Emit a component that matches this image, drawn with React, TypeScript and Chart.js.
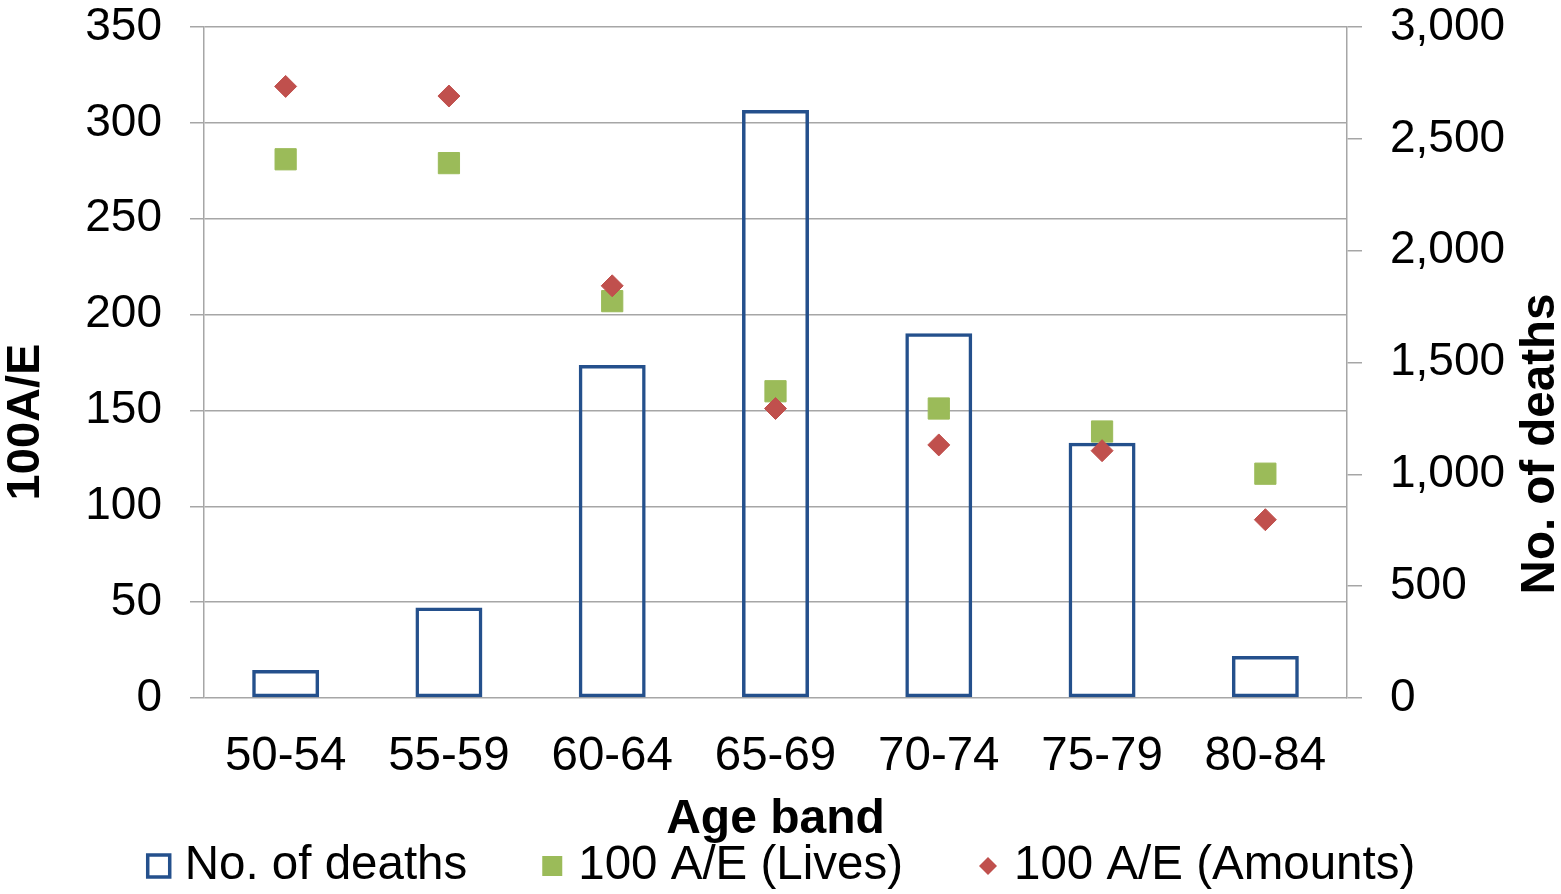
import React, { useEffect, useRef } from 'react';
import { Chart, registerables } from 'chart.js';

Chart.register(...registerables);

const FONT = '"Liberation Sans", Arial, Helvetica, sans-serif';

// ---- data ----
const categories = ['50-54', '55-59', '60-64', '65-69', '70-74', '75-79', '80-84'];
const deaths = [125, 405, 1489, 2629, 1631, 1141, 188];
const livesAE = [281, 279, 207, 160, 151, 139, 117];
const amountsAE = [319, 314, 215, 151, 132, 129, 93];

const leftAxisTitle = '100A/E';
const rightAxisTitle = 'No. of deaths';
const xAxisTitle = 'Age band';
const seriesLabels = ['No. of deaths', '100 A/E (Lives)', '100 A/E (Amounts)'];

const leftMax = 350;
const leftStep = 50;
const rightMax = 3000;
const rightStep = 500;

const BLUE = '#24508c';
const GREEN = '#9bbb59';
const RED = '#c0504d';
const GRID = '#a6a6a6';

const titlesAndLegend = {
  id: 'titlesAndLegend',
  afterDraw(chart: any) {
    const ctx = chart.ctx as CanvasRenderingContext2D;
    ctx.save();
    ctx.fillStyle = '#000';
    ctx.textAlign = 'center';
    ctx.textBaseline = 'middle';

    ctx.save();
    ctx.font = `bold 47px ${FONT}`;
    ctx.translate(26, 422);
    ctx.rotate(-Math.PI / 2);
    ctx.fillText(leftAxisTitle, 0, 0);
    ctx.restore();

    ctx.save();
    ctx.font = `bold 47.5px ${FONT}`;
    ctx.translate(1541, 444);
    ctx.rotate(-Math.PI / 2);
    ctx.fillText(rightAxisTitle, 0, 0);
    ctx.restore();

    // legend
    ctx.font = `47.5px ${FONT}`;
    const ds = chart.data.datasets;
    const widths = ds.map((d: any) => ctx.measureText(d.label).width);
    const slot = 39;
    const gap = 72;
    const total = widths.reduce((a: number, b: number) => a + b, 0) + slot * ds.length + gap * (ds.length - 1);
    let x = (chart.width - total) / 2;
    const y = 866;
    ds.forEach((d: any, i: number) => {
      const cx = x + 13;
      if (i === 0) {
        ctx.strokeStyle = BLUE;
        ctx.lineWidth = 3.5;
        ctx.strokeRect(cx - 11, y - 11, 22, 22);
      } else if (i === 1) {
        ctx.fillStyle = GREEN;
        ctx.fillRect(cx - 10, y - 10, 20, 20);
      } else {
        ctx.fillStyle = RED;
        ctx.beginPath();
        ctx.moveTo(cx, y - 9);
        ctx.lineTo(cx + 9, y);
        ctx.lineTo(cx, y + 9);
        ctx.lineTo(cx - 9, y);
        ctx.closePath();
        ctx.fill();
      }
      ctx.fillStyle = '#000';
      ctx.textAlign = 'left';
      ctx.fillText(d.label, x + slot, y);
      x += slot + widths[i] + gap;
    });
    ctx.restore();
  },
};

export default function App() {
  const canvasRef = useRef<HTMLCanvasElement | null>(null);

  useEffect(() => {
    if (!canvasRef.current) return;
    const yTickFont = { family: FONT, size: 46 };
    const xTickFont = { family: FONT, size: 47.5 };
    const chart = new Chart(canvasRef.current, {
      type: 'bar',
      data: {
        labels: categories,
        datasets: [
          {
            type: 'bar',
            label: seriesLabels[0],
            data: deaths,
            yAxisID: 'y1',
            backgroundColor: 'rgba(0,0,0,0)',
            borderColor: BLUE,
            borderWidth: 3.5,
            borderSkipped: false,
            barPercentage: 0.41,
            categoryPercentage: 1,
            order: 3,
          } as any,
          {
            type: 'line',
            label: seriesLabels[1],
            data: livesAE,
            yAxisID: 'y',
            showLine: false,
            pointStyle: 'rect',
            pointRadius: 15,
            pointHoverRadius: 15,
            pointBackgroundColor: GREEN,
            pointBorderColor: GREEN,
            pointBorderWidth: 1,
            order: 2,
          } as any,
          {
            type: 'line',
            label: seriesLabels[2],
            data: amountsAE,
            yAxisID: 'y',
            showLine: false,
            pointStyle: 'rectRot',
            pointRadius: 11,
            pointHoverRadius: 11,
            pointBackgroundColor: RED,
            pointBorderColor: RED,
            pointBorderWidth: 1,
            order: 1,
          } as any,
        ],
      },
      options: {
        responsive: true,
        maintainAspectRatio: false,
        animation: false,
        layout: { padding: { left: 85, right: 56, top: 0, bottom: 54 } },
        plugins: {
          legend: { display: false },
          tooltip: { enabled: false },
        },
        scales: {
          x: {
            offset: true,
            grid: { display: false, drawTicks: false, tickLength: 0 },
            border: { display: false },
            ticks: { font: xTickFont, color: '#000', padding: 30, maxRotation: 0, autoSkip: false },
            title: {
              display: true,
              text: xAxisTitle,
              color: '#000',
              font: { family: FONT, size: 48, weight: 'bold', lineHeight: 1 },
              padding: { top: 12, bottom: -4 },
            },
            afterFit: (s: any) => {
              s.height = 142;
            },
          },
          y: {
            position: 'left',
            min: 0,
            max: leftMax,
            ticks: { stepSize: leftStep, font: yTickFont, color: '#000', padding: 28 },
            grid: { color: GRID, lineWidth: 1.5, tickLength: 14, drawTicks: true },
            border: { display: true, color: GRID, width: 1.5 },
            afterFit: (s: any) => {
              s.width = 119;
              s.paddingTop = 27;
              s.paddingBottom = 27;
            },
          },
          y1: {
            position: 'right',
            min: 0,
            max: rightMax,
            ticks: {
              stepSize: rightStep,
              font: yTickFont,
              color: '#000',
              padding: 28,
              callback: (v: any) => Number(v).toLocaleString('en-US'),
            },
            grid: { color: GRID, lineWidth: 1.5, tickLength: 15, drawOnChartArea: false, drawTicks: true },
            border: { display: true, color: GRID, width: 1.5 },
            afterFit: (s: any) => {
              s.width = 158;
              s.paddingTop = 27;
              s.paddingBottom = 27;
            },
          },
        },
      },
      plugins: [titlesAndLegend],
    });
    return () => chart.destroy();
  }, []);

  return (
    <div style={{ position: 'absolute', left: 0, top: 0, width: 1561, height: 894, background: '#fff' }}>
      <canvas ref={canvasRef} />
    </div>
  );
}
